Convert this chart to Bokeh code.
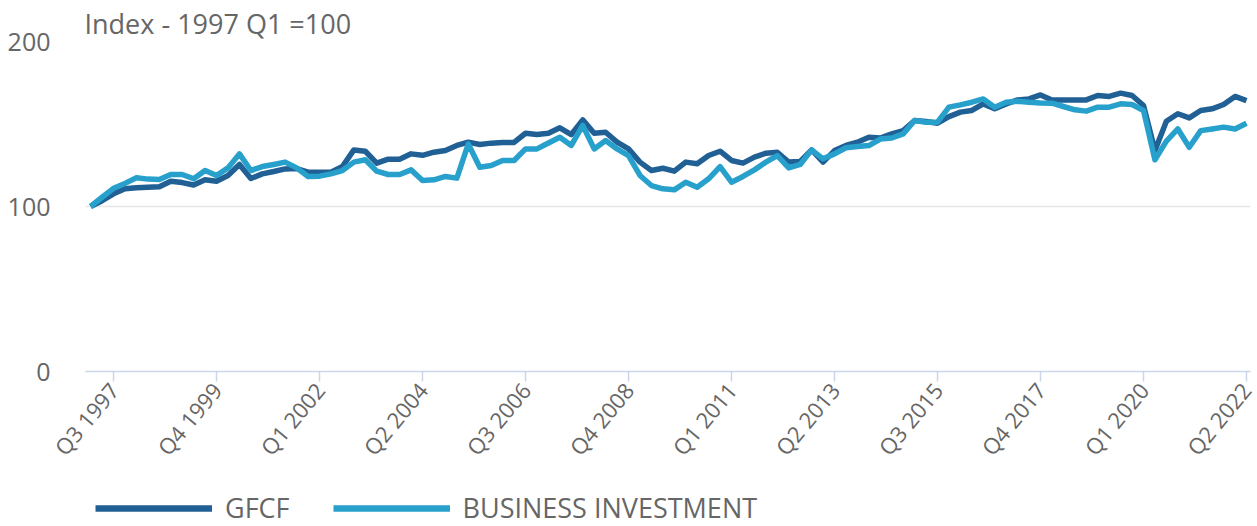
import math
from bokeh.plotting import figure
from bokeh.layouts import column
from bokeh.models import FixedTicker, Legend, LegendItem, Range1d, ColumnDataSource
from bokeh.embed import file_html
from bokeh.resources import INLINE

# ---- data ----
quarters = [f"Q{q} {y}" for y in range(1997, 2023) for q in range(1, 5)][:102]

gfcf = [100, 103.5, 107.7, 110.7, 111.3, 111.7, 112, 115.3, 114.5, 113,
        116.2, 115.3, 118.8, 125.5, 117, 119.8, 121.2, 122.8, 123, 120.8,
        120.8, 120.8, 124.2, 134.3, 133.5, 126.3, 128.7, 128.7, 131.9, 131,
        132.9, 133.9, 137, 139, 137.6, 138.4, 138.8, 138.8, 144.4, 143.6,
        144.4, 147.7, 143.6, 152.5, 144.4, 145, 139, 134.9, 126.9, 121.8,
        123.2, 121.4, 126.9, 125.9, 130.9, 133.5, 127.9, 126.3, 129.9, 132.3,
        132.9, 126.9, 127.3, 134.3, 126.9, 133.9, 137, 139, 142, 141.5,
        144, 146, 152.1, 151.5, 150.5, 154.5, 157.2, 158.2, 162.2, 159.2,
        162.2, 164.6, 165.2, 167.6, 164.6, 164.6, 164.6, 164.6, 167.3, 166.7,
        168.7, 167.3, 161.2, 133.9, 151.7, 156.2, 153.7, 158.2, 159.2, 161.8,
        166.7, 164.2]

business = [100, 105.6, 111, 114, 117.4, 116.6, 116.4, 119.4, 119.4, 116.8,
            121.8, 118.8, 123.4, 131.9, 121.8, 124.2, 125.5, 126.9, 123.4, 118.2,
            118.4, 119.8, 121.8, 126.9, 128.3, 121.4, 119.4, 119.4, 122.2, 115.8,
            116.2, 118.2, 117.2, 137.9, 123.8, 124.8, 127.9, 127.9, 134.9, 134.9,
            138.5, 142, 137, 149.1, 134.9, 140, 134.9, 130.9, 118.8, 112.7,
            110.7, 110.1, 114.7, 111.7, 116.8, 124.2, 114.7, 118.2, 122.2, 126.9,
            130.9, 123.4, 125.5, 134.3, 128.9, 131.9, 135.6, 136.4, 136.9, 140.9,
            141.5, 144, 152.1, 151.1, 151.1, 160.2, 161.6, 163.2, 165.2, 160.2,
            163.2, 163.8, 163.2, 162.8, 162.6, 160.6, 158.6, 157.8, 160.2, 160.2,
            162.2, 161.8, 158.2, 128.3, 139.6, 147, 135.9, 146, 147, 148.1,
            147, 150.5]

tick_labels = ["Q3 1997", "Q4 1999", "Q1 2002", "Q2 2004", "Q3 2006", "Q4 2008",
               "Q1 2011", "Q2 2013", "Q3 2015", "Q4 2017", "Q1 2020", "Q2 2022"]
y_ticks = [0, 100, 200]

series_names = ["GFCF", "BUSINESS INVESTMENT"]
colors = ["#206095", "#27a0cc"]
title_text = "Index - 1997 Q1 =100"

# ---- figure ----
FONT = "Open Sans"
GRAY = "#666666"
LW = 5.5

idx = list(range(len(quarters)))
src = ColumnDataSource(dict(x=idx, gfcf=gfcf, business=business))

p = figure(width=1257, height=476, output_backend="svg", toolbar_location=None,
           x_range=Range1d(-0.45, 101.35), y_range=Range1d(0, 200),
           min_border_left=85, min_border_right=7, min_border_top=41,
           min_border_bottom=105)
p.outline_line_color = None

p.title.text = title_text
p.title.align = "left"
p.title.text_font = FONT
p.title.text_font_size = "27px"
p.title.text_font_style = "normal"
p.title.text_color = GRAY
p.title.standoff = 0
p.title.offset = -1

r1 = p.line("x", "gfcf", source=src, line_color=colors[0], line_width=LW, line_join="round")
r2 = p.line("x", "business", source=src, line_color=colors[1], line_width=LW, line_join="round")

# axes
tick_pos = [quarters.index(t) for t in tick_labels]
p.xaxis.ticker = FixedTicker(ticks=tick_pos)
p.xaxis.major_label_overrides = {i: t for i, t in zip(tick_pos, tick_labels)}
p.xaxis.axis_line_color = "#ccd6eb"
p.xaxis.axis_line_width = 1.5
p.xaxis.major_tick_line_color = "#ccd6eb"
p.xaxis.major_tick_line_width = 1.5
p.xaxis.major_tick_out = 10
p.xaxis.major_tick_in = 0
p.xaxis.minor_tick_line_color = None
p.xaxis.major_label_orientation = 0.88
p.xaxis.major_label_text_font = FONT
p.xaxis.major_label_text_font_size = "22px"
p.xaxis.major_label_text_color = GRAY
p.xaxis.major_label_standoff = 4

p.yaxis.ticker = FixedTicker(ticks=y_ticks)
p.yaxis.axis_line_color = None
p.yaxis.major_tick_line_color = None
p.yaxis.major_tick_out = 0
p.yaxis.major_tick_in = 0
p.yaxis.minor_tick_line_color = None
p.yaxis.major_label_text_font = FONT
p.yaxis.major_label_text_font_size = "25px"
p.yaxis.major_label_text_color = GRAY
p.yaxis.major_label_standoff = 35

p.xgrid.visible = False
p.ygrid.ticker = FixedTicker(ticks=y_ticks)
p.ygrid.grid_line_color = "#e6e6e6"
p.ygrid.grid_line_width = 1.5

# ---- legend strip ----
lg = figure(width=1257, height=50, output_backend="svg", toolbar_location=None,
            x_range=Range1d(0, 1), y_range=Range1d(0, 1),
            x_axis_location=None, y_axis_location=None,
            min_border_left=85, min_border_right=7, min_border_top=0, min_border_bottom=0)
lg.outline_line_color = None
lg.grid.visible = False
d1 = lg.line(x=[-5, -4], y=[-5, -5], line_color=colors[0], line_width=LW + 1)
d2 = lg.line(x=[-5, -4], y=[-5, -5], line_color=colors[1], line_width=LW + 1)
legend = Legend(items=[LegendItem(label=series_names[0], renderers=[d1]),
                       LegendItem(label=series_names[1], renderers=[d2])],
                orientation="horizontal", location=(10, 0),
                glyph_width=117, glyph_height=20, label_standoff=13, spacing=43,
                label_text_font=FONT, label_text_font_size="27px", label_text_color=GRAY,
                border_line_color=None, background_fill_alpha=0,
                padding=0, margin=0)
lg.add_layout(legend, "center")

open("out.html", "w").write(file_html(column(p, lg, spacing=0), INLINE))
